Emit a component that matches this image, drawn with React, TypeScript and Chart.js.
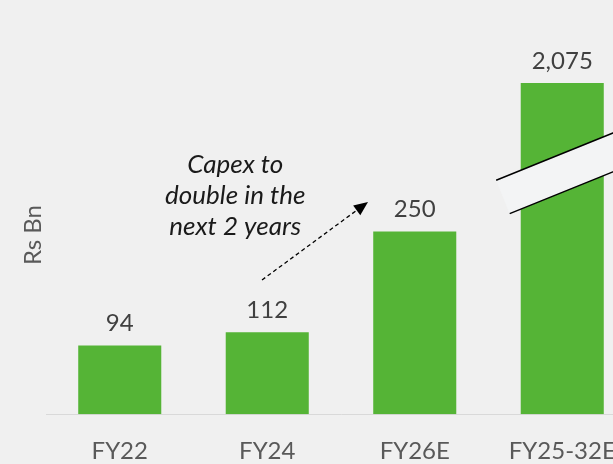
import React, { useEffect, useRef } from "react";
import { Chart, registerables } from "chart.js";

Chart.register(...registerables);

const categories = ["FY22", "FY24", "FY26E", "FY25-32E"];
const capexValues = [94, 112, 250, 2075];
const valueLabels = ["94", "112", "250", "2,075"];
// drawn height (axis units) of the broken last bar
const brokenBarHeight = 453;
const breakMarkValue = 330;
const annotationLines = ["Capex to", "double in the", "next 2 years"];
const yTitle = "Rs Bn";

const BG = "#f0f0f0";
const GREEN = "#55B436";
const FONT = "Lato, 'Open Sans', sans-serif";

const bgPlugin = {
  id: "bg",
  beforeDraw(chart: any) {
    const { ctx, width, height } = chart;
    ctx.save();
    ctx.fillStyle = BG;
    ctx.fillRect(0, 0, width, height);
    ctx.restore();
  },
};

const overlayPlugin = {
  id: "overlay",
  afterDatasetsDraw(chart: any) {
    const { ctx } = chart;
    const meta = chart.getDatasetMeta(0);
    const yScale = chart.scales.y;
    const xScale = chart.scales.x;

    // break band on last bar
    const last = meta.data[meta.data.length - 1];
    const cx = last.x;
    const cy = yScale.getPixelForValue(breakMarkValue);
    const ang = -Math.atan(0.405);
    ctx.save();
    ctx.translate(cx, cy);
    ctx.rotate(ang);
    ctx.fillStyle = "#f3f4f5";
    ctx.fillRect(-64, -18, 128, 36);
    ctx.strokeStyle = "#000000";
    ctx.lineWidth = 1.5;
    ctx.beginPath();
    ctx.moveTo(-64, -18);
    ctx.lineTo(64, -18);
    ctx.moveTo(-64, 18);
    ctx.lineTo(64, 18);
    ctx.stroke();
    ctx.restore();

    // value labels
    ctx.save();
    ctx.font = `24px ${FONT}`;
    ctx.fillStyle = "#404040";
    ctx.textAlign = "center";
    ctx.textBaseline = "alphabetic";
    meta.data.forEach((bar: any, i: number) => {
      ctx.fillText(valueLabels[i], bar.x, bar.y - 14);
    });
    ctx.restore();

    // annotation text
    const tx = xScale.getPixelForValue(1) - 32;
    ctx.save();
    ctx.font = `italic 26px ${FONT}`;
    ctx.fillStyle = "#1a1a1a";
    ctx.textAlign = "center";
    ctx.textBaseline = "middle";
    annotationLines.forEach((line, i) => {
      ctx.fillText(line, tx, 165 + i * 31);
    });
    ctx.restore();

    // dashed arrow
    const x0 = 262, y0 = 280, x1 = 368, y1 = 202;
    const a = Math.atan2(y1 - y0, x1 - x0);
    const headLen = 14;
    const hx = x1 - headLen * Math.cos(a);
    const hy = y1 - headLen * Math.sin(a);
    ctx.save();
    ctx.strokeStyle = "#000000";
    ctx.lineWidth = 1.3;
    ctx.setLineDash([4, 3]);
    ctx.beginPath();
    ctx.moveTo(x0, y0);
    ctx.lineTo(hx, hy);
    ctx.stroke();
    ctx.setLineDash([]);
    ctx.fillStyle = "#000000";
    ctx.beginPath();
    ctx.moveTo(x1, y1);
    ctx.lineTo(hx + 6 * Math.sin(a), hy - 6 * Math.cos(a));
    ctx.lineTo(hx - 6 * Math.sin(a), hy + 6 * Math.cos(a));
    ctx.closePath();
    ctx.fill();
    ctx.restore();
  },
};

export default function App() {
  const ref = useRef<HTMLCanvasElement | null>(null);

  useEffect(() => {
    if (!ref.current) return;
    const plotted = capexValues.map((v) => Math.min(v, brokenBarHeight));
    const chart = new Chart(ref.current, {
      type: "bar",
      data: {
        labels: categories,
        datasets: [
          {
            data: plotted,
            backgroundColor: GREEN,
            borderWidth: 0,
            categoryPercentage: 1,
            barPercentage: 0.563,
          },
        ],
      },
      options: {
        animation: false,
        responsive: true,
        maintainAspectRatio: false,
        layout: { padding: { top: 56, right: 4, left: 0, bottom: 0 } },
        plugins: {
          legend: { display: false },
          tooltip: { enabled: false },
        },
        scales: {
          x: {
            grid: { display: false, drawTicks: false },
            border: { display: true, color: "#d9d9d9", width: 1 },
            ticks: {
              color: "#595959",
              font: { family: FONT, size: 24, lineHeight: 1.2 },
              padding: 23,
              maxRotation: 0,
              autoSkip: false,
            },
          },
          y: {
            min: 0,
            max: 490,
            grid: { display: false, drawTicks: false },
            border: { display: false },
            ticks: { display: false },
            title: {
              display: true,
              text: yTitle,
              color: "#595959",
              font: { family: FONT, size: 24, lineHeight: 1 },
              padding: { top: 21, bottom: 1 },
            },
          },
        },
      },
      plugins: [bgPlugin, overlayPlugin],
    });
    return () => chart.destroy();
  }, []);

  return (
    <div
      style={{
        position: "fixed",
        left: 0,
        top: 0,
        width: 613,
        height: 464,
        overflow: "hidden",
        background: BG,
      }}
    >
      <div style={{ position: "relative", width: 640, height: 489 }}>
        <canvas ref={ref} />
      </div>
    </div>
  );
}
